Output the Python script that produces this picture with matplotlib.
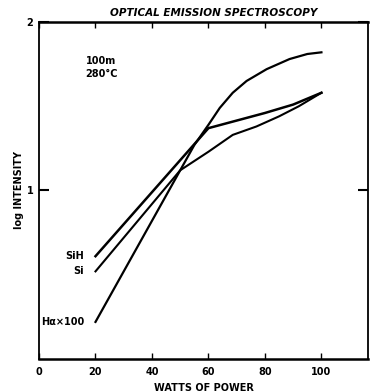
import numpy as np
import matplotlib
matplotlib.use('Agg')
import matplotlib.pyplot as plt

# datos (watts, log intensidad)
watts_sih = [20, 60, 70, 80, 90, 100]
log_sih = [0.61, 1.37, 1.415, 1.46, 1.51, 1.58]

watts_si = [20, 50, 60, 68.6, 77, 85, 92, 100]
log_si = [0.52, 1.12, 1.23, 1.33, 1.38, 1.44, 1.50, 1.58]

watts_ha = [20, 30, 40, 50, 55, 60, 64, 68.6, 73.5, 80.6, 88.7, 95, 100]
log_ha = [0.22, 0.52, 0.82, 1.12, 1.27, 1.39, 1.49, 1.58, 1.65, 1.72, 1.78, 1.81, 1.82]

x_ticks = [0, 20, 40, 60, 80, 100]
y_ticks = [1, 2]

plt.rcParams['font.family'] = 'DejaVu Sans'
plt.rcParams['font.weight'] = 'bold'

fig = plt.figure(figsize=(3.78, 3.92), dpi=100)
ax = fig.add_axes([0.1032, 0.0842, 0.8704, 0.8597])

ax.plot(watts_sih, log_sih, color='black', lw=1.8, solid_joinstyle='miter')
ax.plot(watts_si, log_si, color='black', lw=1.5)
ax.plot(watts_ha, log_ha, color='black', lw=1.6)

ax.set_xlim(0, 116.5)
ax.set_ylim(0, 2)

ax.set_xticks(x_ticks)
ax.set_xticklabels([str(v) for v in x_ticks], fontsize=7, fontweight='bold')
ax.set_yticks(y_ticks)
ax.set_yticklabels([str(v) for v in y_ticks], fontsize=7, fontweight='bold')
ax.tick_params(axis='x', direction='in', top=True, length=4, width=1, pad=6)
ax.tick_params(axis='y', direction='in', right=True, length=7, width=1.5, pad=4)

for s in ax.spines.values():
    s.set_linewidth(1.3)
ax.spines['top'].set_linewidth(1.8)
ax.spines['bottom'].set_linewidth(1.8)

# etiquetas de las curvas
ax.text(16.0, 0.61, 'SiH', fontsize=7, fontweight='bold', ha='right', va='center')
ax.text(16.0, 0.52, 'Si', fontsize=7, fontweight='bold', ha='right', va='center')
ax.text(16.0, 0.22, 'Hα×100', fontsize=7, fontweight='bold', ha='right', va='center')

ax.text(16.5, 1.77, '100m', fontsize=7, fontweight='bold', ha='left', va='center')
ax.text(16.5, 1.69, '280°C', fontsize=7, fontweight='bold', ha='left', va='center')

ax.set_xlabel('WATTS OF POWER', fontsize=7, fontweight='bold', labelpad=4)
ax.set_ylabel('log INTENSITY', fontsize=7, fontweight='bold', labelpad=2)

fig.text(0.565, 0.968, 'OPTICAL EMISSION SPECTROSCOPY', fontsize=7.5,
         fontweight='bold', style='italic', ha='center', va='center')

fig.savefig('out.png', dpi=100)
